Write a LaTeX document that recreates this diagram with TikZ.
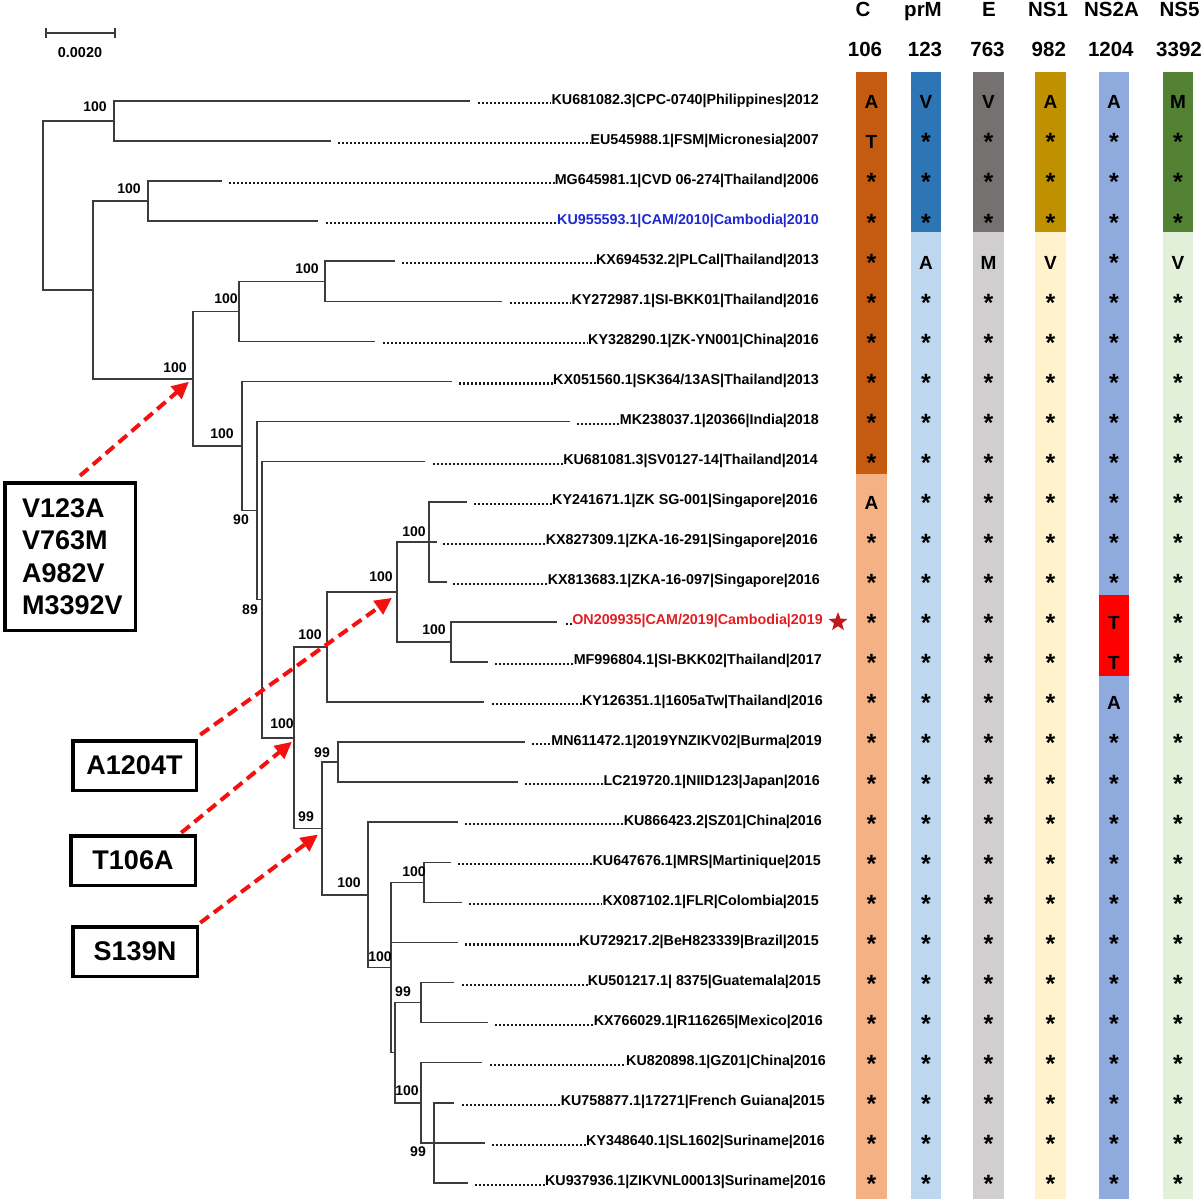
\documentclass[tikz,border=0pt]{standalone}
\usepackage{fontspec}
\setmainfont{Liberation Sans}
\usetikzlibrary{arrows.meta,calc,shapes.geometric}

\definecolor{treegray}{RGB}{60,60,60}
\definecolor{camblue}{RGB}{30,40,210}
\definecolor{onred}{RGB}{225,30,35}
\definecolor{starred}{RGB}{190,25,30}
\definecolor{arrred}{RGB}{245,15,15}
\definecolor{cCd}{HTML}{C55A11}
\definecolor{cCl}{HTML}{F4B183}
\definecolor{prd}{HTML}{2E75B6}
\definecolor{prl}{HTML}{BDD7EE}
\definecolor{Ed}{HTML}{767171}
\definecolor{El}{HTML}{D0CECE}
\definecolor{Nad}{HTML}{BF9000}
\definecolor{Nal}{HTML}{FFF2CC}
\definecolor{Nb}{HTML}{8FAADC}
\definecolor{Nbr}{HTML}{FF0000}
\definecolor{Ncd}{HTML}{548235}
\definecolor{Ncl}{HTML}{E2F0D9}

\tikzset{
  br/.style={draw=treegray, line width=1.6pt},
  dots/.style={draw=black!90, line width=2.1pt, dash pattern=on 2pt off 2pt},
  lab/.style={font={\fontsize{14.3}{16}\selectfont\bfseries}, anchor=base east, inner sep=0pt},
  boot/.style={font={\fontsize{14}{16}\selectfont\bfseries}, inner sep=0pt},
  hdr/.style={font={\fontsize{20.5}{22}\selectfont\bfseries}, anchor=base, inner sep=0pt},
  res/.style={font={\fontsize{19}{20}\selectfont\bfseries}, anchor=base, inner sep=0pt},
  mutbox/.style={draw=black, line width=3.5pt, inner sep=0pt, outer sep=0pt, anchor=north west,
    font={\fontsize{27}{32.5}\selectfont\bfseries}},
  boxtxt/.style={font={\fontsize{27}{32.5}\selectfont\bfseries}, inner sep=0pt},
  mutarrow/.style={draw=arrred, line width=4pt, dash pattern=on 11pt off 6pt,
    -{Triangle[length=17pt,width=16pt,fill=arrred]}},
}

\newcommand\mkleaf[6]{%
  \coordinate (t#1) at (#3,#2);
  \coordinate (d#1) at (#4,{#2+2});
  \node[lab] (l#1) at (#5,{#2+3}) {#6};
  \draw[dots] (d#1) -- (d#1 -| l#1.west);
}
\newcommand\ak{\raisebox{-2pt}{\fontsize{25}{25}\selectfont *}}

\begin{document}
\begin{tikzpicture}[x=1pt,y=-1pt]
\useasboundingbox (0,0) rectangle (1201,1199);

% ---------- scale bar ----------
\coordinate (sb1) at (46,33);
\coordinate (sb2) at (115,33);
\draw[br, line width=1.4pt] (sb1) -- (sb2);
\draw[br, line width=1.4pt] (46,28) -- (46,38);
\draw[br, line width=1.4pt] (115,28) -- (115,38);
\node[boot, font={\fontsize{14.4}{16}\selectfont\bfseries}] (sbl) at (80,53) {0.0020};

% ---------- leaves ----------
\mkleaf{1}{101}{470}{478}{819}{KU681082.3|CPC-0740|Philippines|2012}
\mkleaf{2}{141.07}{331}{338}{819}{EU545988.1|FSM|Micronesia|2007}
\mkleaf{3}{181.14}{222}{229}{819}{MG645981.1|CVD 06-274|Thailand|2006}
\mkleaf{4}{221.21}{318}{326}{819}{\color{camblue}KU955593.1|CAM/2010|Cambodia|2010}
\mkleaf{5}{261.28}{395}{402}{819}{KX694532.2|PLCal|Thailand|2013}
\mkleaf{6}{301.35}{502}{510}{819}{KY272987.1|SI-BKK01|Thailand|2016}
\mkleaf{7}{341.42}{375}{383}{819}{KY328290.1|ZK-YN001|China|2016}
\mkleaf{8}{381.49}{452}{459}{819}{KX051560.1|SK364/13AS|Thailand|2013}
\mkleaf{9}{421.56}{570}{577}{819}{MK238037.1|20366|India|2018}
\mkleaf{10}{461.63}{425}{433}{818}{KU681081.3|SV0127-14|Thailand|2014}
\mkleaf{11}{501.7}{467}{474}{818}{KY241671.1|ZK SG-001|Singapore|2016}
\mkleaf{12}{541.77}{437}{443}{818}{KX827309.1|ZKA-16-291|Singapore|2016}
\mkleaf{13}{581.84}{447}{453}{820}{KX813683.1|ZKA-16-097|Singapore|2016}
\mkleaf{14}{621.91}{557}{566}{823}{\color{onred}ON209935|CAM/2019|Cambodia|2019}
\mkleaf{15}{661.98}{488}{495}{822}{MF996804.1|SI-BKK02|Thailand|2017}
\mkleaf{16}{702.05}{484}{492}{823}{KY126351.1|1605aTw|Thailand|2016}
\mkleaf{17}{742.12}{525}{532}{822}{MN611472.1|2019YNZIKV02|Burma|2019}
\mkleaf{18}{782.19}{518}{525}{820}{LC219720.1|NIID123|Japan|2016}
\mkleaf{19}{822.26}{458}{465}{822}{KU866423.2|SZ01|China|2016}
\mkleaf{20}{862.33}{451}{458}{821}{KU647676.1|MRS|Martinique|2015}
\mkleaf{21}{902.4}{462}{469}{819}{KX087102.1|FLR|Colombia|2015}
\mkleaf{22}{942.47}{458}{465}{819}{KU729217.2|BeH823339|Brazil|2015}
\mkleaf{23}{982.54}{454}{462}{821}{KU501217.1| 8375|Guatemala|2015}
\mkleaf{24}{1022.61}{488}{495}{823}{KX766029.1|R116265|Mexico|2016}
\mkleaf{25}{1062.68}{482}{490}{826}{KU820898.1|GZ01|China|2016}
\mkleaf{26}{1102.75}{454}{462}{825}{KU758877.1|17271|French Guiana|2015}
\mkleaf{27}{1142.82}{485}{492}{825}{KY348640.1|SL1602|Suriname|2016}
\mkleaf{28}{1182.89}{468}{475}{826}{KU937936.1|ZIKVNL00013|Suriname|2016}

\node[star, star points=5, star point ratio=2.4, fill=starred, minimum size=20pt, inner sep=0pt] (star) at (838,622) {};

% ---------- internal nodes ----------
\coordinate (nroot) at (43,205.5);
\coordinate (nA) at (114,121.04);
\coordinate (nB) at (148,201.18);
\coordinate (nC) at (93,289.95);
\coordinate (nD) at (193,378.72);
\coordinate (nE) at (239,311.37);
\coordinate (nF) at (325,281.32);
\coordinate (nG) at (242,446.06);
\coordinate (nH) at (257,510.63);
\coordinate (nI) at (262,599.69);
\coordinate (nJ) at (294,737.75);
\coordinate (nK) at (327,646.96);
\coordinate (nL) at (397,591.86);
\coordinate (nM) at (429,541.77);
\coordinate (nN) at (451,641.95);
\coordinate (nO) at (322,828.53);
\coordinate (nP) at (338,762.16);
\coordinate (nQ) at (368,894.89);
\coordinate (nR) at (391,967.52);
\coordinate (nS) at (424,882.37);
\coordinate (nT) at (395,1052.67);
\coordinate (nU) at (421,1002.58);
\coordinate (nV) at (421,1102.75);
\coordinate (nW) at (434,1142.82);

\draw[br]
  (nroot) |- (nA)  (nroot) |- (nC)
  (nA) |- (t1)  (nA) |- (t2)
  (nC) |- (nB)  (nC) |- (nD)
  (nB) |- (t3)  (nB) |- (t4)
  (nD) |- (nE)  (nD) |- (nG)
  (nE) |- (nF)  (nE) |- (t7)
  (nF) |- (t5)  (nF) |- (t6)
  (nG) |- (t8)  (nG) |- (nH)
  (nH) |- (t9)  (nH) |- (nI)
  (nI) |- (t10) (nI) |- (nJ)
  (nJ) |- (nK)  (nJ) |- (nO)
  (nK) |- (nL)  (nK) |- (t16)
  (nL) |- (nM)  (nL) |- (nN)
  (nM) |- (t11) (nM) |- (t12) (nM) |- (t13)
  (nN) |- (t14) (nN) |- (t15)
  (nO) |- (nP)  (nO) |- (nQ)
  (nP) |- (t17) (nP) |- (t18)
  (nQ) |- (t19) (nQ) |- (nR)
  (nR) |- (nS)  (nR) |- (t22) (nR) |- (nT)
  (nS) |- (t20) (nS) |- (t21)
  (nT) |- (nU)  (nT) |- (nV)
  (nU) |- (t23) (nU) |- (t24)
  (nV) |- (t25) (nV) |- (nW)
  (nW) |- (t26) (nW) |- (t27) (nW) |- (t28);

% ---------- bootstrap values ----------
\node[boot] (bA) at (95,107) {100};
\node[boot] (bB) at (129,189) {100};
\node[boot] (bF) at (307,269) {100};
\node[boot] (bE) at (226,299) {100};
\node[boot] (bD) at (175,368) {100};
\node[boot] (bG) at (222,434) {100};
\node[boot] (bH) at (241,520) {90};
\node[boot] (bI) at (250,610) {89};
\node[boot] (bJ) at (282,724) {100};
\node[boot] (bK) at (310,635) {100};
\node[boot] (bL) at (381,577) {100};
\node[boot] (bM) at (414,532) {100};
\node[boot] (bN) at (434,630) {100};
\node[boot] (bO) at (306,817) {99};
\node[boot] (bP) at (322,753) {99};
\node[boot] (bQ) at (349,883) {100};
\node[boot] (bR) at (380,957) {100};
\node[boot] (bS) at (414,872) {100};
\node[boot] (bU) at (403,992) {99};
\node[boot] (bV) at (407,1091) {100};
\node[boot] (bW) at (418,1152) {99};

% ---------- columns ----------
\fill[cCd] (856,72) rectangle (887,474);   \fill[cCl] (856,474) rectangle (887,1199);
\fill[prd] (911,72) rectangle (941,232);   \fill[prl] (911,232) rectangle (941,1199);
\fill[Ed] (973,72) rectangle (1004,232);   \fill[El] (973,232) rectangle (1004,1199);
\fill[Nad] (1035,72) rectangle (1066,232); \fill[Nal] (1035,232) rectangle (1066,1199);
\fill[Nb] (1099,72) rectangle (1129,1199); \fill[Nbr] (1099,595) rectangle (1129,676);
\fill[Ncd] (1163,72) rectangle (1193,232); \fill[Ncl] (1163,232) rectangle (1193,1199);

\node[hdr] (hC) at (863,16.3) {C};
\node[hdr] (hprM) at (923,16.3) {prM};
\node[hdr] (hE) at (989,16.3) {E};
\node[hdr] (hNSa) at (1048,16.3) {NS1};
\node[hdr] (hNSb) at (1111.5,16.3) {NS2A};
\node[hdr] (hNSc) at (1179.5,16.3) {NS5};
\node[hdr] (pC) at (865,56.3) {106};
\node[hdr] (pprM) at (925,56.3) {123};
\node[hdr] (pE) at (987.5,56.3) {763};
\node[hdr] (pNSa) at (1048.8,56.3) {982};
\node[hdr] (pNSb) at (1110.8,56.3) {1204};
\node[hdr] (pNSc) at (1179,56.3) {3392};

\foreach \s [count=\i] in {A,T,\ak,\ak,\ak,\ak,\ak,\ak,\ak,\ak,A,\ak,\ak,\ak,\ak,\ak,\ak,\ak,\ak,\ak,\ak,\ak,\ak,\ak,\ak,\ak,\ak,\ak}
  \node[res] (rC\i) at (871.5,{101+40.07*(\i-1)+7.8}) {\s};
\foreach \s [count=\i] in {V,\ak,\ak,\ak,A,\ak,\ak,\ak,\ak,\ak,\ak,\ak,\ak,\ak,\ak,\ak,\ak,\ak,\ak,\ak,\ak,\ak,\ak,\ak,\ak,\ak,\ak,\ak}
  \node[res] (rP\i) at (926,{101+40.07*(\i-1)+7.8}) {\s};
\foreach \s [count=\i] in {V,\ak,\ak,\ak,M,\ak,\ak,\ak,\ak,\ak,\ak,\ak,\ak,\ak,\ak,\ak,\ak,\ak,\ak,\ak,\ak,\ak,\ak,\ak,\ak,\ak,\ak,\ak}
  \node[res] (rE\i) at (988.5,{101+40.07*(\i-1)+7.8}) {\s};
\foreach \s [count=\i] in {A,\ak,\ak,\ak,V,\ak,\ak,\ak,\ak,\ak,\ak,\ak,\ak,\ak,\ak,\ak,\ak,\ak,\ak,\ak,\ak,\ak,\ak,\ak,\ak,\ak,\ak,\ak}
  \node[res] (rNa\i) at (1050.5,{101+40.07*(\i-1)+7.8}) {\s};
\foreach \s [count=\i] in {A,\ak,\ak,\ak,\ak,\ak,\ak,\ak,\ak,\ak,\ak,\ak,\ak,T,T,A,\ak,\ak,\ak,\ak,\ak,\ak,\ak,\ak,\ak,\ak,\ak,\ak}
  \node[res] (rNb\i) at (1114,{101+40.07*(\i-1)+7.8}) {\s};
\foreach \s [count=\i] in {M,\ak,\ak,\ak,V,\ak,\ak,\ak,\ak,\ak,\ak,\ak,\ak,\ak,\ak,\ak,\ak,\ak,\ak,\ak,\ak,\ak,\ak,\ak,\ak,\ak,\ak,\ak}
  \node[res] (rNc\i) at (1178,{101+40.07*(\i-1)+7.8}) {\s};

% ---------- mutation boxes ----------
\node[mutbox, minimum width=130.5pt, minimum height=147.5pt] (b1) at (4.75,482.75) {};
\node[boxtxt, anchor=west, align=left] (b1t) at (22,556.5) {V123A\\V763M\\A982V\\M3392V};
\node[mutbox, minimum width=123.5pt, minimum height=49.5pt] (b2) at (72.75,740.75) {A1204T};
\node[mutbox, minimum width=124.5pt, minimum height=49.5pt] (b3) at (70.75,835.75) {T106A};
\node[mutbox, minimum width=124.5pt, minimum height=49.5pt] (b4) at (72.75,926.75) {S139N};

% ---------- arrows ----------
\coordinate (tgD) at ($(nD)+(-4,3)$);
\coordinate (tgL) at ($(nL)+(-5,6)$);
\coordinate (tgJ) at ($(nJ)+(-2,4)$);
\coordinate (tgO) at ($(nO)+(-4,6)$);
\draw[mutarrow] ([xshift=10pt,yshift=7pt]b1.north) -- (tgD);
\draw[mutarrow] ([xshift=4pt,yshift=6pt]b2.north east) -- (tgL);
\draw[mutarrow] ([xshift=-14pt,yshift=3pt]b3.north east) -- (tgJ);
\draw[mutarrow] ([xshift=3pt,yshift=4pt]b4.north east) -- (tgO);
\end{tikzpicture}
\end{document}
